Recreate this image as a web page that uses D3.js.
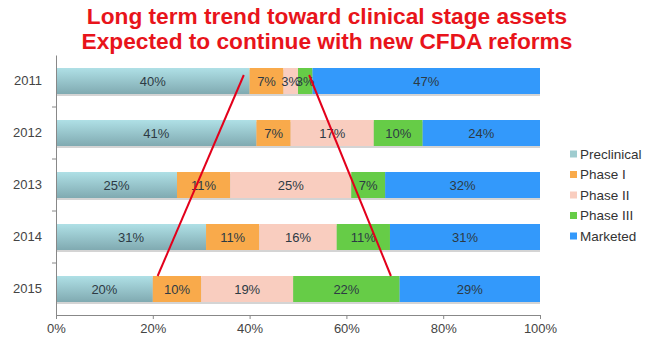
<!DOCTYPE html>
<html><head><meta charset="utf-8">
<script src="https://cdn.jsdelivr.net/npm/d3@7"></script>
<style>body{margin:0;background:#fff;}svg{display:block;font-family:"Liberation Sans",Arial,sans-serif;}</style>
</head><body><svg id="c" width="650" height="341"></svg>
<script>
const years = ["2011","2012","2013","2014","2015"];
const seriesNames = ["Preclinical","Phase I","Phase II","Phase III","Marketed"];
const preclinical = [40,41,25,31,20];
const phase1 = [7,7,11,11,10];
const phase2 = [3,17,25,16,19];
const phase3 = [3,10,7,11,22];
const marketed = [47,24,32,31,29];
const xTicks = [0,0.2,0.4,0.6,0.8,1];
const titleLines = ["Long term trend toward clinical stage assets","Expected to continue with new CFDA reforms"];
// annotation lines: [fraction at 2011, fraction at 2015]
const trendLines = [[0.388,0.21],[0.523,0.692]];
const colors = ["url(#gPre)","#f9aa4b","#f9cdbf","#66cc47","#3399fb"];
const legendColors = ["#9fcccf","#f9aa4b","#f9cdbf","#66cc47","#3399fb"];

const svg = d3.select("#c");
const defs = svg.append("defs");
const g1 = defs.append("linearGradient").attr("id","gPre").attr("x1",0).attr("y1",0).attr("x2",0).attr("y2",1);
g1.append("stop").attr("offset","0%").attr("stop-color","#afe0e6");
g1.append("stop").attr("offset","100%").attr("stop-color","#80aab1");

const rows = years.map((y,i)=>{
  const vals=[preclinical[i],phase1[i],phase2[i],phase3[i],marketed[i]];
  const tot=d3.sum(vals); let c=0;
  return {year:y, segs: vals.map((v,k)=>{const s={k,v,x0:c/tot,x1:(c+v)/tot};c+=v;return s;})};
});

const x = d3.scaleLinear().domain([0,1]).range([56,540]);
const y = d3.scaleBand().domain(years).range([55,315]).paddingInner(0.5).paddingOuter(0.25);

// title
svg.append("g").selectAll("text").data(titleLines).join("text")
  .attr("x",327).attr("y",(d,i)=>24+i*25).attr("text-anchor","middle")
  .attr("fill","#e8141b").attr("font-weight","bold").attr("font-size","22.7px").text(d=>d);

// shadows
svg.append("g").selectAll("rect").data(rows).join("rect")
  .attr("x",x(0)).attr("y",d=>y(d.year)+2).attr("width",x(1)-x(0)).attr("height",y.bandwidth())
  .attr("fill","#d4d4d4");

const bars = svg.append("g").selectAll("g").data(rows).join("g");
bars.selectAll("rect").data(d=>d.segs.map(s=>({...s,year:d.year}))).join("rect")
  .attr("x",d=>x(d.x0)).attr("y",d=>y(d.year)).attr("width",d=>x(d.x1)-x(d.x0)).attr("height",y.bandwidth())
  .attr("fill",d=>colors[d.k]);
bars.selectAll("text").data(d=>d.segs.map(s=>({...s,year:d.year}))).join("text")
  .attr("x",d=>(x(d.x0)+x(d.x1))/2).attr("y",d=>y(d.year)+y.bandwidth()/2+5)
  .attr("text-anchor","middle").attr("font-size","13px").attr("fill","#2d3a44").text(d=>d.v+"%");

// axes
const xa = svg.append("g").attr("transform","translate(0,315)")
  .call(d3.axisBottom(x).tickValues(xTicks).tickFormat(d3.format(".0%")).tickSizeInner(4).tickSizeOuter(0));
xa.select(".domain").attr("stroke","#888");
xa.selectAll(".tick line").attr("stroke","#888");
xa.selectAll("text").attr("font-size","13px").attr("fill","#444").attr("font-family","Liberation Sans, Arial, sans-serif").attr("dy","0.85em");

const ya = svg.append("g").attr("transform","translate(56,0)")
  .call(d3.axisLeft(y).tickSize(0).tickPadding(14));
ya.select(".domain").attr("stroke","#888");
ya.selectAll("text").attr("font-size","13px").attr("fill","#444").attr("font-family","Liberation Sans, Arial, sans-serif");
const step = y.step();
ya.selectAll(".sep").data(years.slice(1)).join("line").attr("class","sep")
  .attr("x1",-4).attr("x2",0).attr("y1",d=>y(d)-(step-y.bandwidth())/2).attr("y2",d=>y(d)-(step-y.bandwidth())/2)
  .attr("stroke","#888");

// trend lines
svg.append("g").selectAll("line").data(trendLines).join("line")
  .attr("x1",d=>x(d[0])).attr("y1",y("2011")+7).attr("x2",d=>x(d[1])).attr("y2",y("2015"))
  .attr("stroke","#e3001b").attr("stroke-width",2);

// legend
const lg = svg.append("g").selectAll("g").data(seriesNames).join("g")
  .attr("transform",(d,i)=>`translate(570,${158.5+i*20.5})`);
lg.append("rect").attr("x",0).attr("y",-8).attr("width",7).attr("height",7).attr("fill",(d,i)=>legendColors[i]);
lg.append("text").attr("x",10).attr("y",0).attr("font-size","13.5px").attr("fill","#333").text(d=>d);
</script></body></html>
